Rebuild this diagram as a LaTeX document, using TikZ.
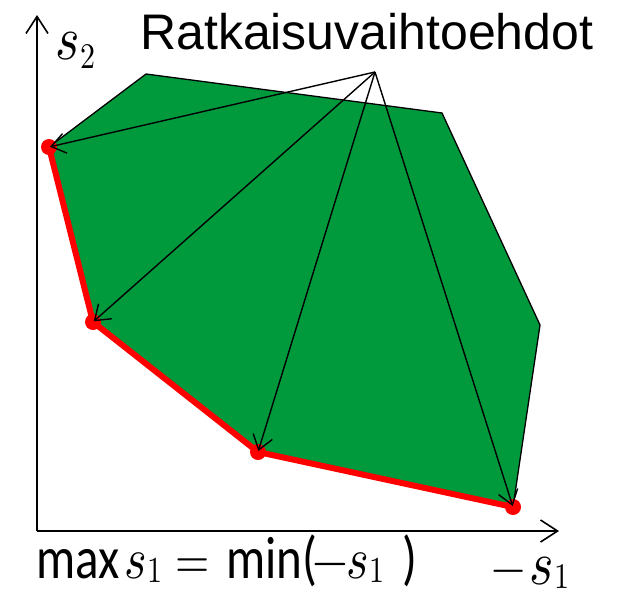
\documentclass[tikz,border=0pt]{standalone}
\usepackage{fontspec}
\usepackage{unicode-math}
\setmathfont{Latin Modern Math}
\setmainfont{Liberation Sans}
\newfontfamily\calib{Carlito}
\usetikzlibrary{arrows.meta}
\definecolor{fillgreen}{HTML}{009A3D}
\tikzset{
  axis/.style={line width=1.6pt,-{Straight Barb[length=17pt,width=22pt]}},
  pointer/.style={line width=1.4pt,-{Straight Barb[length=14pt,width=20pt]},shorten >=1pt},
  front/.style={red,line width=6pt,line join=round},
  dot/.style={circle,fill=red,inner sep=0pt,minimum size=16pt},
  lbl/.style={anchor=base west,inner sep=0pt},
}
\newcommand{\tall}[1]{\scalebox{1}[1.2]{#1}}
\newcommand{\fs}[1]{\fontsize{#1}{#1}\selectfont}
% \svar{size of s}{size of index}{drop}{index}
\newcommand{\svar}[4]{{\fs{#1}$s$}\kern0.5pt\raisebox{-#3}{\fs{#2}$#4$}}
\newcommand{\piece}[2]{\makebox[#1][l]{#2}}
\begin{document}
\begin{tikzpicture}[x=1pt,y=-1pt]
\useasboundingbox (0,0) rectangle (637,595);
\coordinate (P1) at (146,74);
\coordinate (P2) at (442,113);
\coordinate (P3) at (540,325);
\coordinate (P4) at (513,507);
\coordinate (P5) at (258,452);
\coordinate (P6) at (93,322);
\coordinate (P7) at (49,147);
\coordinate (O) at (37,531);
\coordinate (Ytop) at (37,15);
\coordinate (Xend) at (559,531);
\coordinate (src) at (375,72);
\fill[fillgreen] (P1)--(P2)--(P3)--(P4)--(P5)--(P6)--(P7)--cycle;
\draw[line width=1.3pt,line join=round] (P7)--(P1)--(P2)--(P3)--(P4);
\draw[front] (P7)--(P6)--(P5)--(P4);
\foreach \p in {P4,P5,P6,P7} \node[dot] at (\p) {};
\draw[axis] (O)--(Ytop);
\draw[axis] (O)--(Xend);
\foreach \p in {P7,P6,P5,P4} \draw[pointer] (src)--(\p);
\node[lbl,font=\fs{50}] (title) at (140,49) {Ratkaisuvaihtoehdot};
\node[lbl] (ylab) at (55,59) {\tall{\svar{52}{30}{8pt}{2}}};
\node[lbl,font=\fs{49}\calib] (eq) at (36,578)
  {\scalebox{1}[1.22]{\piece{88pt}{max}\piece{51pt}{\svar{48}{30}{4pt}{1}}\piece{51pt}{\fs{44}$=$}\piece{86pt}{min(}\piece{34pt}{\fs{46}$-$}\piece{56pt}{\svar{48}{30}{4pt}{1}})}};
\node[lbl] (xlab) at (491,584) {\tall{\piece{38pt}{\fs{44}$-$}\svar{52}{30}{4pt}{1}}};
\end{tikzpicture}
\end{document}
